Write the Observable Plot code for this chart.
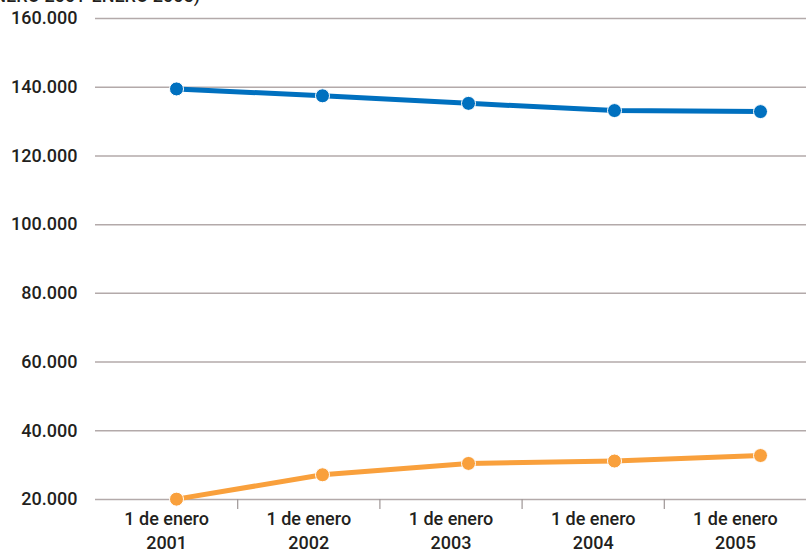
<!DOCTYPE html>
<html>
<head>
<meta charset="utf-8">
<script src="https://cdn.jsdelivr.net/npm/d3@7"></script>
<script src="https://cdn.jsdelivr.net/npm/@observablehq/plot@0.6"></script>
<style>
  html, body { margin: 0; padding: 0; background: #fff; overflow: hidden; }
  #wrap { position: relative; width: 806px; height: 551px; overflow: hidden; }
  #wrap svg { position: absolute; left: 0; top: 0; }
  #sub { position: absolute; right: 606px; top: -13px; font: 500 18px Roboto, "Liberation Sans", Arial, sans-serif; color: #231f20; white-space: nowrap; line-height: 1; }
</style>
</head>
<body>
<div id="wrap"><div id="sub">(ENERO 2001-ENERO 2005)</div></div>
<script>
const years = [2001, 2002, 2003, 2004, 2005];
const xLabels = ["1 de enero\n2001", "1 de enero\n2002", "1 de enero\n2003", "1 de enero\n2004", "1 de enero\n2005"];
const seriesBlue = [139500, 137500, 135300, 133200, 132900];
const seriesOrange = [20100, 27200, 30500, 31200, 32800];
const yTicks = [20000, 40000, 60000, 80000, 100000, 120000, 140000, 160000];

const W = 806, H = 551, MT = 18, MB = 52;
const fmt = d3.formatLocale({decimal: ",", thousands: ".", grouping: [3], currency: ["", "€"]}).format(",");
const font = "Roboto, 'Liberation Sans', Arial, sans-serif";

const labelData = xLabels.map((t, i) => ({i: i + 0.5, t}));
const seps = d3.range(1, xLabels.length);

const axes = Plot.plot({
  width: W, height: H,
  marginLeft: 95, marginRight: 0, marginTop: MT, marginBottom: MB,
  style: {fontFamily: font, fontSize: "18px", fontWeight: 500, color: "#231f20", background: "transparent"},
  x: {domain: [0, xLabels.length], axis: null},
  y: {domain: [20000, 160000], axis: null},
  marks: [
    Plot.gridY(yTicks, {stroke: "#b3aaaa", strokeOpacity: 1, strokeWidth: 1.5}),
    Plot.axisY(yTicks, {tickSize: 0, tickPadding: 18, tickFormat: fmt, fontSize: 18, fill: "#231f20", label: null}),
    Plot.axisX(seps, {tickSize: 10, tickFormat: () => "", stroke: "#9e9696", strokeWidth: 1.2, label: null}),
    Plot.text(labelData, {x: "i", y: () => 20000, text: "t", dy: 9, lineAnchor: "top", lineHeight: 1.3, fontSize: 18, fill: "#231f20"})
  ]
});

const series = [
  {name: "azul", color: "#0070bf", values: seriesBlue},
  {name: "naranja", color: "#f9a03c", values: seriesOrange}
];
const rows = series.flatMap(s => s.values.map((v, i) => ({year: years[i], v, name: s.name, color: s.color})));

const data = Plot.plot({
  width: W, height: H,
  marginLeft: 175, marginRight: 46, marginTop: MT, marginBottom: MB,
  style: {background: "transparent"},
  x: {type: "point", domain: years, padding: 0, axis: null},
  y: {domain: [20000, 160000], axis: null},
  marks: [
    Plot.line(rows, {x: "year", y: "v", z: "name", stroke: "color", strokeWidth: 5, strokeLinejoin: "round"}),
    Plot.dot(rows, {x: "year", y: "v", fill: "color", r: 7, stroke: "white", strokeWidth: 1})
  ]
});

const wrap = document.getElementById("wrap");
wrap.appendChild(axes);
wrap.appendChild(data);
</script>
</body>
</html>
